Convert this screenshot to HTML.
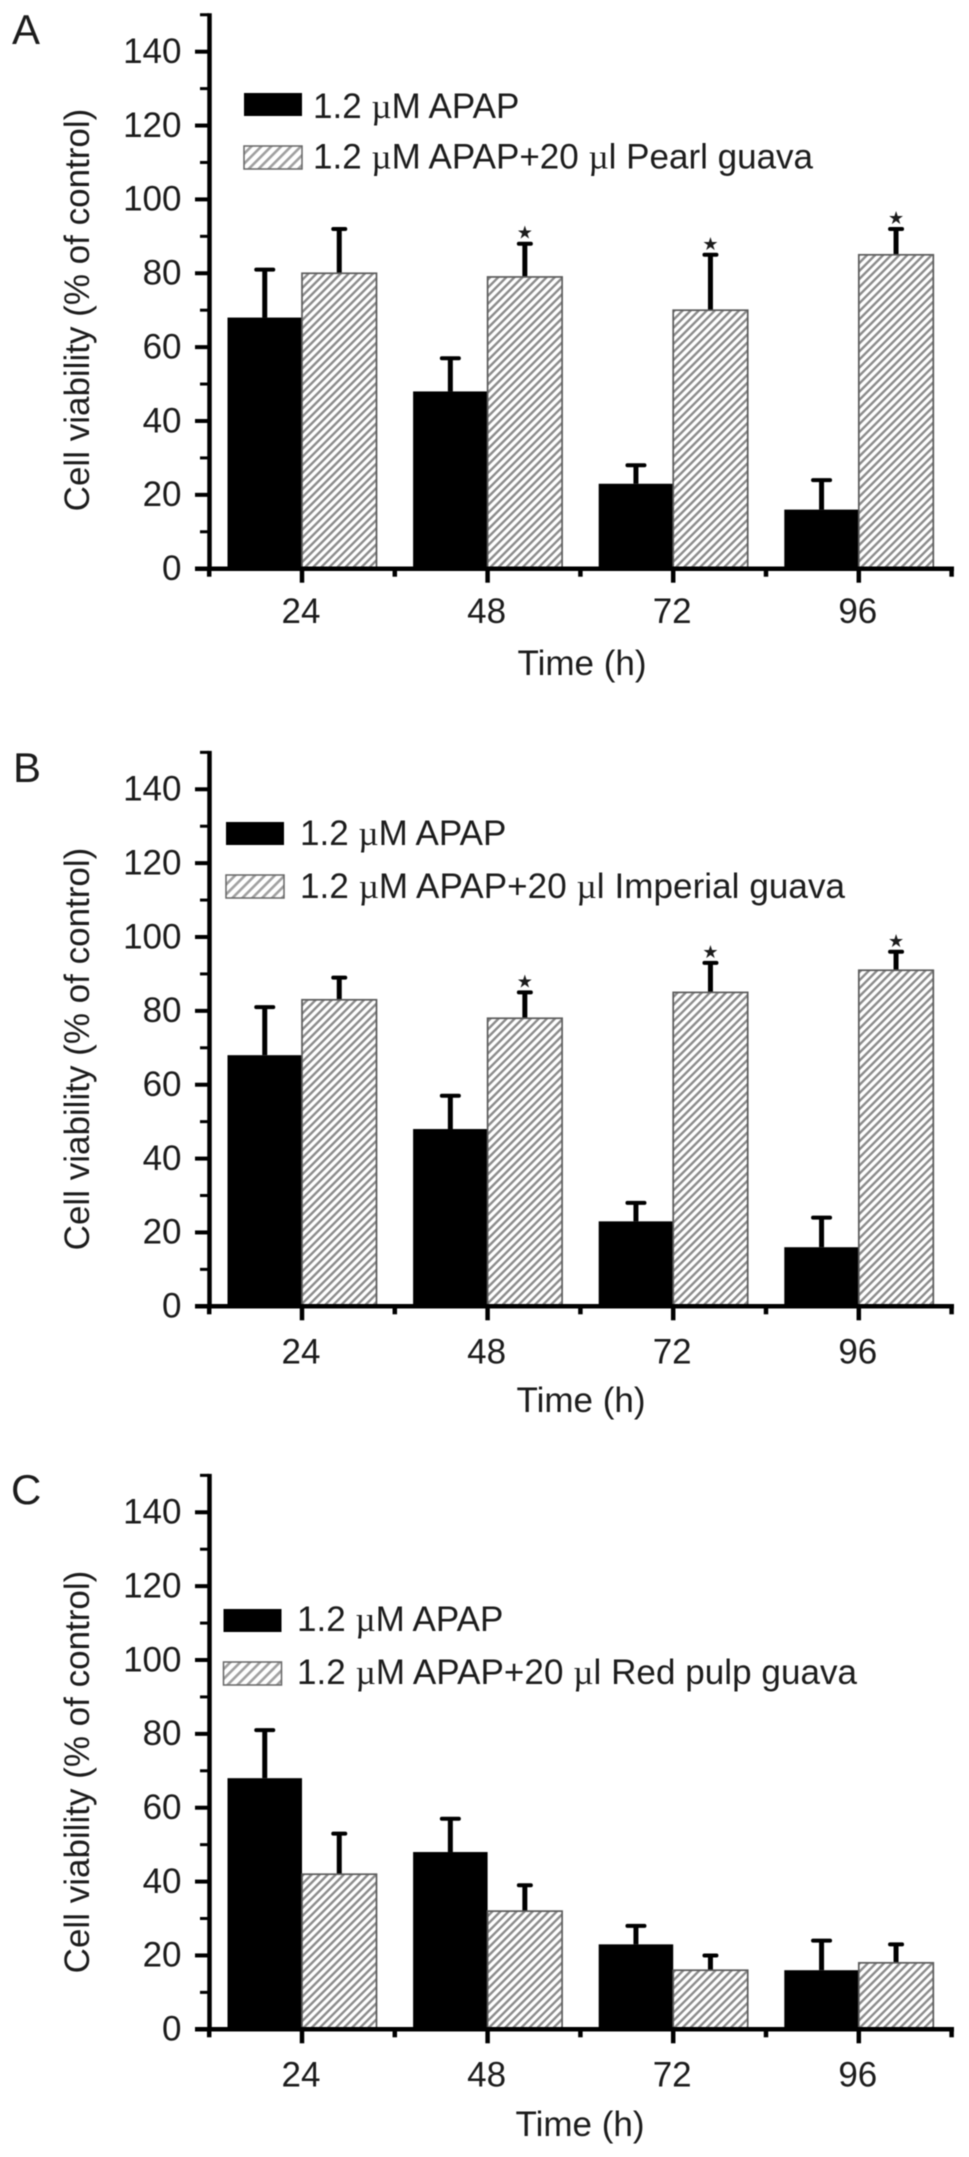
<!DOCTYPE html>
<html>
<head>
<meta charset="utf-8">
<title>Cell viability charts</title>
<style>
html,body{margin:0;padding:0;background:#fff;}
svg{display:block;filter:blur(0.55px);}
text{font-family:"Liberation Sans",sans-serif;fill:#1c1c1c;}
.tick{font-size:35px;}
.lab{font-size:35px;}
.leg{font-size:35px;}
.mu{font-family:"Liberation Serif",serif;}
.letter{font-size:42px;}
</style>
</head>
<body>
<svg id="figure" xmlns="http://www.w3.org/2000/svg" width="969" height="2157" viewBox="0 0 969 2157">
<defs>
<pattern id="hatch" patternUnits="userSpaceOnUse" width="5.7" height="5.7" patternTransform="rotate(-45)">
<rect x="0" y="0" width="5.7" height="2.4" fill="#8c8c8c"></rect>
</pattern>
<pattern id="hatch-legend" patternUnits="userSpaceOnUse" width="7" height="7" patternTransform="rotate(-45)">
<rect x="0" y="0" width="7" height="2.6" fill="#a0a0a0"></rect>
</pattern>
</defs>
<rect width="969" height="2157" fill="#fff"></rect>

<g id="panel-a">
<text class="letter" x="12" y="44">A</text>
<text class="lab" transform="translate(89,310) rotate(-90)" text-anchor="middle">Cell viability (% of control)</text>
<text class="lab" x="582" y="675" text-anchor="middle">Time (h)</text>
<rect x="244" y="93" width="58" height="23" fill="#000"></rect>
<rect x="244" y="146" width="58" height="23" fill="url(#hatch-legend)" stroke="#666" stroke-width="1.5"></rect>
<text class="leg" x="313" y="118">1.2 <tspan class="mu">µ</tspan>M APAP</text>
<text class="leg" x="313" y="168.5" textLength="500">1.2 <tspan class="mu">µ</tspan>M APAP+20 <tspan class="mu">µ</tspan>l Pearl guava</text>
</g>

<g id="panel-b">
<text class="letter" x="13" y="782">B</text>
<text class="lab" transform="translate(89,1049) rotate(-90)" text-anchor="middle">Cell viability (% of control)</text>
<text class="lab" x="581" y="1412" text-anchor="middle">Time (h)</text>
<rect x="226" y="822" width="58" height="23" fill="#000"></rect>
<rect x="226" y="875" width="58" height="23" fill="url(#hatch-legend)" stroke="#666" stroke-width="1.5"></rect>
<text class="leg" x="300" y="845">1.2 <tspan class="mu">µ</tspan>M APAP</text>
<text class="leg" x="300" y="898" textLength="545">1.2 <tspan class="mu">µ</tspan>M APAP+20 <tspan class="mu">µ</tspan>l Imperial guava</text>
</g>

<g id="panel-c">
<text class="letter" x="11" y="1504">C</text>
<text class="lab" transform="translate(89,1772) rotate(-90)" text-anchor="middle">Cell viability (% of control)</text>
<text class="lab" x="580" y="2136" text-anchor="middle">Time (h)</text>
<rect x="223.500" y="1609" width="58" height="23" fill="#000"></rect>
<rect x="223.500" y="1662" width="58" height="23" fill="url(#hatch-legend)" stroke="#666" stroke-width="1.5"></rect>
<text class="leg" x="297" y="1631">1.2 <tspan class="mu">µ</tspan>M APAP</text>
<text class="leg" x="297" y="1684" textLength="560">1.2 <tspan class="mu">µ</tspan>M APAP+20 <tspan class="mu">µ</tspan>l Red pulp guava</text>
</g>
</svg>

<script>
const timeLabels = ['24', '48', '72', '96'];
const yTickLabels = [0, 20, 40, 60, 80, 100, 120, 140];
const yMinorTicks = [10, 30, 50, 70, 90, 110, 130, 150];

const apapValues = [68, 48, 23, 16];
const apapErrorTops = [81, 57, 28, 24];

const pearlValues = [80, 79, 70, 85];
const pearlErrorTops = [92, 88, 85, 92];
const pearlStars = [false, true, true, true];

const imperialValues = [83, 78, 85, 91];
const imperialErrorTops = [89, 85, 93, 96];
const imperialStars = [false, true, true, true];

const redPulpValues = [42, 32, 16, 18];
const redPulpErrorTops = [53, 39, 20, 23];
const redPulpStars = [false, false, false, false];

const NS = 'http://www.w3.org/2000/svg';

function make(parent, tag, attrs, text) {
  const el = document.createElementNS(NS, tag);
  for (const k in attrs) el.setAttribute(k, attrs[k]);
  if (text !== undefined) el.textContent = text;
  parent.appendChild(el);
  return el;
}

function drawPanel(panelId, y0, labelDy, guavaValues, guavaTops, guavaStars) {
  const panel = document.getElementById(panelId);
  const yScale = v => y0 - v * 3.693;
  const groupX = i => 302 + i * 185.6;
  const barW = 74.5;

  // bars and error bars
  timeLabels.forEach((t, i) => {
    const cx = groupX(i);

    const errA = make(panel, 'line', {x1: cx - barW / 2, x2: cx - barW / 2, y1: yScale(apapValues[i]), y2: yScale(apapErrorTops[i]), stroke: '#000', 'stroke-width': 5});
    
    
    const capA = make(panel, 'line', {x1: cx - barW / 2 - 8.5, x2: cx - barW / 2 + 8.5, y1: yScale(apapErrorTops[i]), y2: yScale(apapErrorTops[i]), stroke: '#000', 'stroke-width': 4, 'stroke-linecap': 'round'});
    
    

    const errG = make(panel, 'line', {x1: cx + barW / 2, x2: cx + barW / 2, y1: yScale(guavaValues[i]), y2: yScale(guavaTops[i]), stroke: '#000', 'stroke-width': 5});
    
    
    const capG = make(panel, 'line', {x1: cx + barW / 2 - 6, x2: cx + barW / 2 + 6, y1: yScale(guavaTops[i]), y2: yScale(guavaTops[i]), stroke: '#000', 'stroke-width': 4, 'stroke-linecap': 'round'});
    
    

    const barA = make(panel, 'rect', {x: cx - barW, y: yScale(apapValues[i]), width: barW, height: y0 - yScale(apapValues[i]), fill: '#000'});
    
    

    const barG = make(panel, 'rect', {x: cx, y: yScale(guavaValues[i]), width: barW, height: y0 - yScale(guavaValues[i]), fill: 'url(#hatch)', stroke: '#5c5c5c', 'stroke-width': 1.7});
    
    

    if (guavaStars[i]) {
      const star = make(panel, 'text', {x: cx + barW / 2, y: yScale(guavaTops[i]) - 5, 'text-anchor': 'middle', 'font-size': 18, style: 'font-family:"DejaVu Sans",sans-serif'}, '★');
      
      
    }

    const label = make(panel, 'text', {class: 'tick', x: cx - 1, y: y0 + labelDy, 'text-anchor': 'middle'}, t);
    
    

    const major = make(panel, 'line', {x1: cx, x2: cx, y1: y0, y2: y0 + 14, stroke: '#000', 'stroke-width': 4.5});
    
    
  });

  // minor x ticks
  [-0.5, 0.5, 1.5, 2.5, 3.5].forEach(k => {
    const x = groupX(k);
    const minor = make(panel, 'line', {x1: x, x2: x, y1: y0, y2: y0 + 8, stroke: '#000', 'stroke-width': 4.5});
    
    
  });

  // y ticks
  yTickLabels.forEach(v => {
    const y = yScale(v);
    const tick = make(panel, 'line', {x1: 195, x2: 209, y1: y, y2: y, stroke: '#000', 'stroke-width': 4});
    
    
    const label = make(panel, 'text', {class: 'tick', x: 181.5, y: y + 11.3, 'text-anchor': 'end'}, String(v));
    
    
  });
  yMinorTicks.forEach(v => {
    const y = yScale(v);
    const tick = make(panel, 'line', {x1: 200, x2: 209, y1: y, y2: y, stroke: '#000', 'stroke-width': 3});
    
    
  });

  // axis lines
  const yAxis = make(panel, 'line', {x1: 209.5, x2: 209.5, y1: yScale(150) - 1.5, y2: y0 + 2, stroke: '#000', 'stroke-width': 4.5});
  
  
  const xAxis = make(panel, 'line', {x1: 195, x2: 954, y1: y0, y2: y0, stroke: '#000', 'stroke-width': 4.5});
  
  
}

drawPanel('panel-a', 568.7, 54.5, pearlValues, pearlErrorTops, pearlStars);
drawPanel('panel-b', 1306.3, 57, imperialValues, imperialErrorTops, imperialStars);
drawPanel('panel-c', 2029.3, 57, redPulpValues, redPulpErrorTops, redPulpStars);
</script>
</body>
</html>
